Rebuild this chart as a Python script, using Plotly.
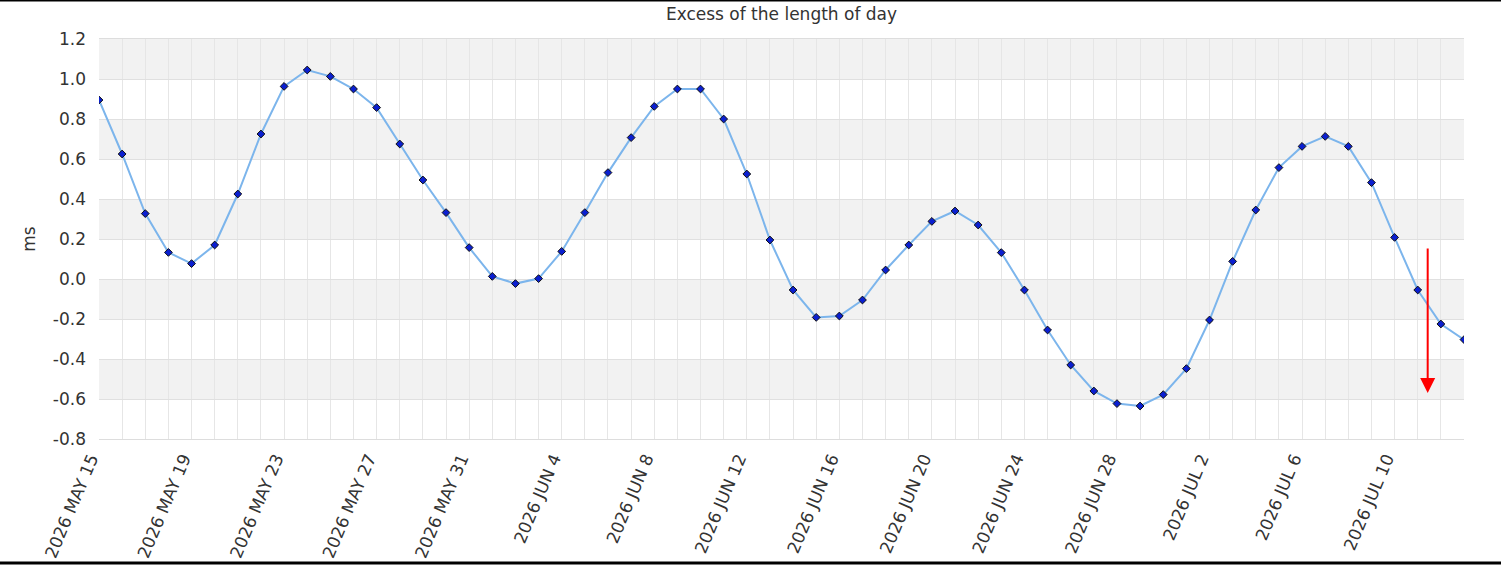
import datetime as dt
import plotly.graph_objects as go

# ---- data ----
start_date = dt.date(2026, 5, 15)
excess_ms = [
    0.895, 0.625, 0.327, 0.133, 0.077, 0.170, 0.425, 0.725, 0.963, 1.045,
    1.013, 0.950, 0.857, 0.675, 0.495, 0.332, 0.157, 0.013, -0.023, 0.002,
    0.138, 0.332, 0.532, 0.707, 0.863, 0.950, 0.950, 0.800, 0.525, 0.195,
    -0.055, -0.192, -0.185, -0.105, 0.045, 0.170, 0.288, 0.340, 0.270, 0.132,
    -0.055, -0.255, -0.430, -0.560, -0.623, -0.635, -0.578, -0.448, -0.205, 0.088,
    0.345, 0.557, 0.663, 0.713, 0.663, 0.482, 0.208, -0.055, -0.225, -0.303,
]
dates = [start_date + dt.timedelta(days=i) for i in range(len(excess_ms))]
tick_dates = dates[::4]
tick_labels = [d.strftime("%Y %b ").upper() + str(d.day) for d in tick_dates]
y_ticks = [-0.8, -0.6, -0.4, -0.2, 0.0, 0.2, 0.4, 0.6, 0.8, 1.0, 1.2]
y_tick_labels = ["%.1f" % v for v in y_ticks]
band_ranges = [(1.0, 1.2), (0.6, 0.8), (0.2, 0.4), (-0.2, 0.0), (-0.6, -0.4)]
arrow_x = dt.datetime(2026, 7, 11, 10, 20)
arrow_from, arrow_to = 0.16, -0.57

FONT = "DejaVu Sans"
TXT = "#333333"

fig = go.Figure()
fig.add_trace(go.Scatter(
    x=dates, y=excess_ms, mode="lines+markers",
    line=dict(color="#7cb5ec", width=2),
    marker=dict(symbol="diamond", size=6, color="#0a1fd0",
                line=dict(color="#111111", width=1)),
    showlegend=False,
))

shapes = []
for lo, hi in band_ranges:
    shapes.append(dict(type="rect", xref="paper", yref="y", x0=0, x1=1, y0=lo, y1=hi,
                       fillcolor="#f2f2f2", line=dict(width=0), layer="below"))
# page frame lines (top / bottom)
shapes.append(dict(type="line", xref="paper", yref="paper", x0=-0.08, x1=1.03,
                   y0=1.0965, y1=1.0965, line=dict(color="#000000", width=2)))
shapes.append(dict(type="line", xref="paper", yref="paper", x0=-0.08, x1=1.03,
                   y0=-0.31, y1=-0.31, line=dict(color="#000000", width=3)))

fig.update_layout(
    width=1501, height=565,
    margin=dict(l=99, r=37, t=39, b=126, autoexpand=False),
    paper_bgcolor="white", plot_bgcolor="rgba(0,0,0,0)",
    font=dict(family=FONT, color=TXT),
    title=dict(text="Excess of the length of day", x=0.5, xref="paper", y=0.975,
               yref="container", xanchor="center", yanchor="middle",
               font=dict(family=FONT, size=17, color=TXT)),
    shapes=shapes,
    annotations=[dict(x=arrow_x, y=arrow_to, ax=arrow_x, ay=arrow_from,
                      xref="x", yref="y", axref="x", ayref="y", text="",
                      showarrow=True, arrowhead=2, arrowsize=1.5, arrowwidth=2,
                      arrowcolor="#ff0000")],
)
fig.update_xaxes(
    type="date", range=[dates[0], dates[-1]], automargin=False,
    tickvals=tick_dates, ticktext=tick_labels, tickangle=-67,
    tickfont=dict(family=FONT, size=17, color=TXT),
    showgrid=True, gridcolor="#e6e6e6", gridwidth=1,
    minor=dict(dtick=86400000, showgrid=True, gridcolor="#e6e6e6", gridwidth=1),
    showline=True, linecolor="#dddddd", linewidth=1, mirror=True,
    zeroline=False, ticks="", ticklabelstandoff=2, ticklabelshift=-8,
)
fig.update_yaxes(
    range=[-0.8, 1.2], tickvals=y_ticks, ticktext=y_tick_labels, automargin=False,
    tickfont=dict(family=FONT, size=17, color=TXT),
    showgrid=True, gridcolor="#e0e0e0", gridwidth=1,
    zeroline=False, showline=False, ticks="", ticklabelstandoff=12,
    title=dict(text="ms", font=dict(family=FONT, size=17, color=TXT), standoff=12),
)

fig.write_html("out.html", config={"displayModeBar": False},
               post_script="document.body.style.margin='0px';")
